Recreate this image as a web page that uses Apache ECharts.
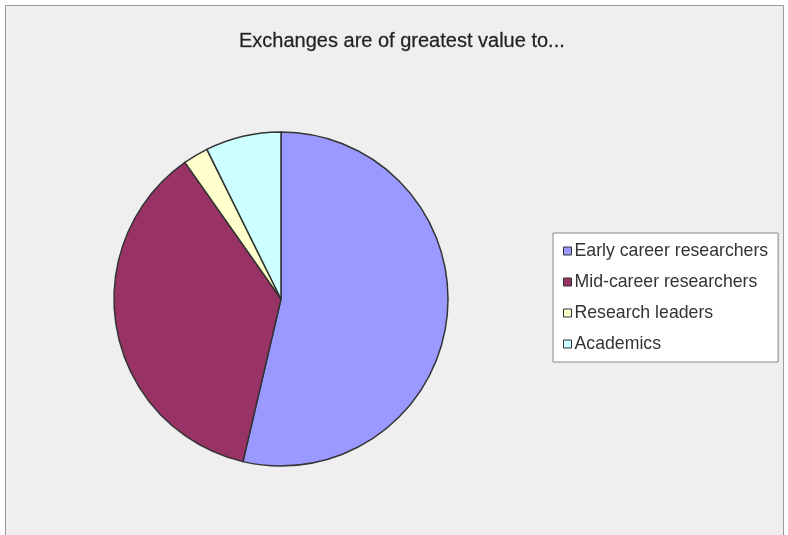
<!DOCTYPE html>
<html>
<head>
<meta charset="utf-8">
<script src="https://cdn.jsdelivr.net/npm/echarts@6/dist/echarts.min.js"></script>
<style>
  html, body { margin: 0; padding: 0; background: #fff; }
  #chart { width: 788px; height: 535px; }
</style>
</head>
<body>
<div id="chart"></div>
<script>
    // 数据
    var categories = ['Early career researchers', 'Mid-career researchers', 'Research leaders', 'Academics'];
    var values = [22, 15, 1, 3];
    var colorList = ['#9999FF', '#993366', '#FFFFCC', '#CCFFFF'];

    var pieData = [];
    categories.forEach(function (name, i) {
        pieData.push({ name: name, value: values[i], itemStyle: { color: colorList[i] } });
    });

    var chart = echarts.init(document.getElementById('chart'));
    chart.setOption({
        backgroundColor: '#fff',
        animation: false,
        title: {
            text: 'Exchanges are of greatest value to...',
            left: 234,
            top: 26,
            textStyle: {
                color: '#222',
                fontFamily: 'Liberation Sans',
                fontWeight: 'normal',
                fontSize: 20,
                letterSpacing: -0.1,
                textBorderColor: '#555',
                textBorderWidth: 0.3
            }
        },
        graphic: [{
            type: 'rect',
            z: -1,
            shape: { x: 5.5, y: 5.5, width: 778, height: 535 },
            style: { fill: '#EFEFEF', stroke: '#999', lineWidth: 1 }
        }],
        legend: {
            orient: 'vertical',
            left: 553,
            top: 233,
            padding: [9, 10, 9, 10],
            itemGap: 13,
            itemWidth: 8,
            itemHeight: 8,
            icon: 'rect',
            backgroundColor: '#fff',
            borderColor: '#888',
            borderWidth: 1,
            borderRadius: 0,
            itemStyle: { borderColor: '#333', borderWidth: 1 },
            textStyle: {
                color: '#333',
                fontFamily: 'Liberation Sans',
                fontSize: 17.7,
                padding: [0, 0, 0, -2]
            },
            data: categories
        },
        series: [{
            type: 'pie',
            center: [281, 299],
            radius: 167,
            startAngle: 90,
            clockwise: true,
            label: { show: false },
            labelLine: { show: false },
            emphasis: { disabled: true },
            itemStyle: { borderColor: '#333', borderWidth: 1.5 },
            data: pieData
        }]
    });
</script>
</body>
</html>
